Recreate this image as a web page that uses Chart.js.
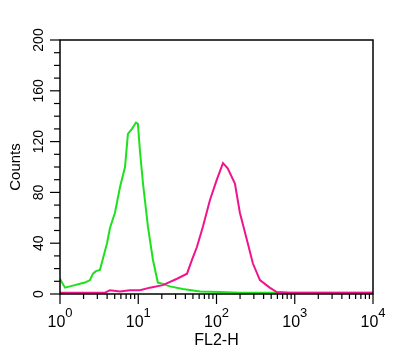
<!DOCTYPE html>
<html>
<head>
<meta charset="utf-8">
<script src="https://cdn.jsdelivr.net/npm/chart.js@4"></script>
<style>
  html, body { margin: 0; padding: 0; background: #fff; }
  #wrap { width: 414px; height: 361px; }
</style>
</head>
<body>
<div id="wrap"><canvas id="histo" width="414" height="361"></canvas></div>
<script>
// FL2-H histogram, two overlaid populations
const greenX = [1.00, 1.06, 1.16, 1.34, 1.55, 1.80, 2.08, 2.42, 2.64, 2.88, 3.24, 3.54, 3.99, 4.35, 5.04, 5.84, 6.77, 7.38, 8.30, 9.36, 9.9, 10.5, 11.5, 13.3, 15.4, 17.8, 20.6, 25.4, 37.1, 61.6, 110, 199, 478, 10000];
const greenY = [12, 9, 5, 6, 7, 8, 9, 11, 16, 18, 19, 28, 40, 52, 64, 84, 100, 126, 130, 135, 134, 113, 87, 53, 27, 9, 8, 6, 4, 2, 1.5, 1, 1, 1];

const pinkX = [1.00, 3.76, 4.35, 5.84, 7.8, 10.5, 14.1, 20.6, 31.3, 42, 48.7, 56.2, 67.0, 82.5, 101, 121, 139, 172, 199, 244, 292, 359, 478, 589, 862, 10000];
const pinkY = [1, 1, 3, 2, 3, 3, 5, 7, 12, 16, 27, 37, 53, 74, 90, 103, 99, 87, 64, 43, 24, 11, 5, 1.5, 1, 1];

const yTicks = [0, 40, 80, 120, 160, 200];
const xDecades = [0, 1, 2, 3, 4];

const toPts = (xs, ys) => xs.map((x, i) => ({x: x, y: ys[i]}));

// axes, ticks and labels drawn by hand (rotated y labels, superscript exponents)
const axesPlugin = {
	id: 'axesPlugin',
	afterDraw(chart) {
		const ctx = chart.ctx;
		const xs = chart.scales.x;
		const ys = chart.scales.y;
		const a = chart.chartArea;
		ctx.save();
		ctx.strokeStyle = '#000';
		ctx.fillStyle = '#000';
		ctx.lineWidth = 1.5;
		ctx.strokeRect(a.left, a.top, a.right - a.left, a.bottom - a.top);

		// y ticks
		ctx.lineWidth = 1.2;
		for (let v = 0; v <= 200; v += 10) {
			const y = ys.getPixelForValue(v);
			const len = (v % 40 === 0) ? 10 : 6;
			ctx.beginPath();
			ctx.moveTo(a.left - len, y);
			ctx.lineTo(a.left, y);
			ctx.stroke();
		}
		ctx.font = '14px "Liberation Sans", Arial, sans-serif';
		ctx.textAlign = 'center';
		ctx.textBaseline = 'alphabetic';
		yTicks.forEach(v => {
			const y = ys.getPixelForValue(v);
			ctx.save();
			ctx.translate(43, y);
			ctx.rotate(-Math.PI / 2);
			ctx.fillText(String(v), 0, 0);
			ctx.restore();
		});
		ctx.save();
		ctx.font = '15px "Liberation Sans", Arial, sans-serif';
		ctx.translate(20, (a.top + a.bottom) / 2);
		ctx.rotate(-Math.PI / 2);
		ctx.fillText('Counts', 0, 0);
		ctx.restore();

		// x ticks
		xDecades.forEach(d => {
			const base = Math.pow(10, d);
			const x = xs.getPixelForValue(base);
			ctx.beginPath();
			ctx.moveTo(x, a.bottom);
			ctx.lineTo(x, a.bottom + 10);
			ctx.stroke();
			if (d < 4) {
				for (let m = 2; m <= 9; m++) {
					const xm = xs.getPixelForValue(m * base);
					ctx.beginPath();
					ctx.moveTo(xm, a.bottom);
					ctx.lineTo(xm, a.bottom + 5);
					ctx.stroke();
				}
			}
			// label 10^d
			const bigFont = '16px "Liberation Sans", Arial, sans-serif';
			const supFont = '13px "Liberation Sans", Arial, sans-serif';
			ctx.font = bigFont;
			const w1 = ctx.measureText('10').width;
			ctx.font = supFont;
			const w2 = ctx.measureText(String(d)).width;
			const start = x - (w1 + w2) / 2;
			ctx.textAlign = 'left';
			ctx.font = bigFont;
			ctx.fillText('10', start, 327);
			ctx.font = supFont;
			ctx.fillText(String(d), start + w1, 317);
		});
		ctx.textAlign = 'center';
		ctx.font = '16px "Liberation Sans", Arial, sans-serif';
		ctx.fillText('FL2-H', (a.left + a.right) / 2, 345);
		ctx.restore();
	}
};

const chart = new Chart(document.getElementById('histo'), {
	type: 'line',
	data: {
		datasets: [
			{
				label: 'stained',
				data: toPts(pinkX, pinkY),
				borderColor: 'rgb(240,20,140)',
				borderWidth: 2,
				pointRadius: 0,
				tension: 0,
				fill: false
			},
			{
				label: 'control',
				data: toPts(greenX, greenY),
				borderColor: 'rgb(30,225,30)',
				borderWidth: 2,
				pointRadius: 0,
				tension: 0,
				fill: false
			}
		]
	},
	options: {
		responsive: false,
		animation: false,
		layout: { padding: { left: 60, right: 41, top: 40, bottom: 67 } },
		plugins: {
			legend: { display: false },
			tooltip: { enabled: false }
		},
		scales: {
			x: { type: 'logarithmic', min: 1, max: 10000, display: false },
			y: { type: 'linear', min: 0, max: 200, display: false }
		}
	},
	plugins: [axesPlugin]
});
</script>
</body>
</html>
